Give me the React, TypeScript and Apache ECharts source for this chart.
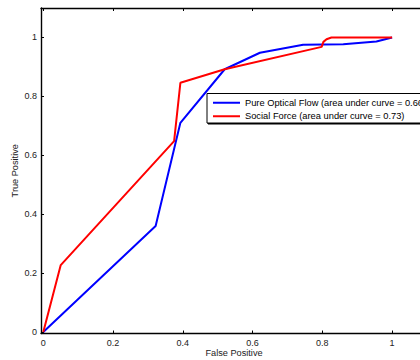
import React, { useEffect, useRef } from "react";
import * as echarts from "echarts";

const tickValues = [0, 0.2, 0.4, 0.6, 0.8, 1];
const seriesNames = [
  "Pure Optical Flow (area under curve = 0.66)",
  "Social Force (area under curve = 0.73)",
];
const opticalFlowFP = [0, 0.322, 0.393, 0.52, 0.621, 0.745, 0.86, 0.955, 1];
const opticalFlowTP = [0, 0.36, 0.71, 0.892, 0.948, 0.975, 0.977, 0.986, 1];
const socialForceFP = [0, 0.05, 0.375, 0.393, 0.52, 0.798, 0.803, 0.812, 0.826, 1];
const socialForceTP = [0, 0.227, 0.648, 0.846, 0.892, 0.968, 0.985, 0.994, 1, 1];
const xTitle = "False Positive";
const yTitle = "True Positive";

const FONT = "'Liberation Sans', Arial, Helvetica, sans-serif";

export default function App() {
  const ref = useRef<HTMLDivElement>(null);
  useEffect(() => {
    if (!ref.current) return;
    const chart = echarts.init(ref.current, undefined, { renderer: "svg" });
    const zip = (xs: number[], ys: number[]) => xs.map((x, i) => [x, ys[i]]);
    const axisLine = { show: true, onZero: false, lineStyle: { color: "#000", width: 1.4 } };
    const tick = { show: true, inside: true, length: 3, customValues: tickValues, lineStyle: { color: "#000", width: 1 } };
    const label = {
      show: true,
      customValues: tickValues,
      formatter: (v: number) => String(v),
      fontFamily: FONT,
      fontSize: 9,
      color: "#222",
    };
    const xRange = { min: -0.0066, max: 1.1 };
    const yRange = { min: -0.0054, max: 1.1 };
    chart.setOption({
      animation: false,
      backgroundColor: "#fff",
      grid: { left: 41, top: 8, right: -7, bottom: 26.5, containLabel: false, outerBoundsMode: "none" },
      xAxis: [
        {
          type: "value",
          position: "bottom",
          ...xRange,
          axisLine,
          axisTick: tick,
          axisLabel: { ...label, margin: 5 },
          splitLine: { show: false },
          name: xTitle,
          nameLocation: "middle",
          nameGap: 15,
          nameMoveOverlap: false,
          nameTextStyle: { fontFamily: FONT, fontSize: 9.2, color: "#222" },
        },
        {
          type: "value",
          position: "top",
          ...xRange,
          axisLine,
          axisTick: tick,
          axisLabel: { show: false },
          splitLine: { show: false },
        },
      ],
      yAxis: [
        {
          type: "value",
          position: "left",
          ...yRange,
          axisLine,
          axisTick: tick,
          axisLabel: { ...label, margin: 4 },
          splitLine: { show: false },
          name: yTitle,
          nameLocation: "middle",
          nameGap: 22,
          nameMoveOverlap: false,
          nameTextStyle: { fontFamily: FONT, fontSize: 9.2, color: "#222" },
        },
        {
          type: "value",
          position: "right",
          ...yRange,
          axisLine,
          axisTick: tick,
          axisLabel: { show: false },
          splitLine: { show: false },
        },
      ],
      legend: {
        orient: "vertical",
        left: 207,
        top: 93.5,
        icon: "rect",
        itemWidth: 27,
        itemHeight: 2,
        itemGap: 2,
        padding: [3.5, 40, 1, 6],
        backgroundColor: "#fff",
        borderColor: "#000",
        borderWidth: 1,
        shadowColor: "#000",
        shadowOffsetX: 1,
        shadowOffsetY: 1,
        shadowBlur: 0,
        textStyle: { fontFamily: FONT, fontSize: 9.3, color: "#000", lineHeight: 11.5 },
        data: seriesNames,
      },
      series: [
        {
          name: seriesNames[0],
          type: "line",
          xAxisIndex: 0,
          yAxisIndex: 0,
          showSymbol: false,
          color: "#0000ff",
          lineStyle: { color: "#0000ff", width: 2 },
          data: zip(opticalFlowFP, opticalFlowTP),
        },
        {
          name: seriesNames[1],
          type: "line",
          xAxisIndex: 0,
          yAxisIndex: 0,
          showSymbol: false,
          color: "#ff0000",
          lineStyle: { color: "#ff0000", width: 2 },
          data: zip(socialForceFP, socialForceTP),
        },
      ],
    });
    return () => chart.dispose();
  }, []);
  return (
    <div
      ref={ref}
      style={{ position: "absolute", left: 0, top: 0, width: 420, height: 360, background: "#fff" }}
    />
  );
}
